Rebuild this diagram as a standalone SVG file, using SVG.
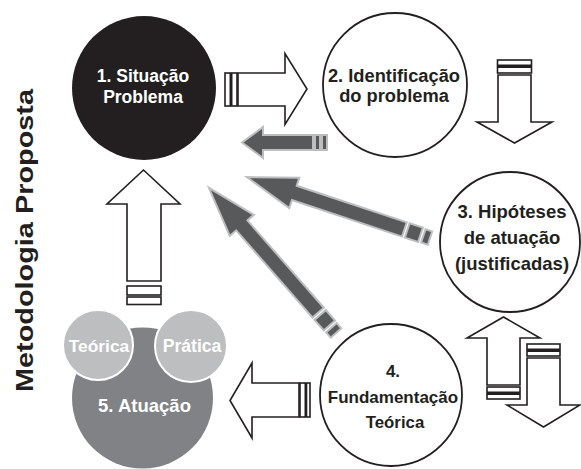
<svg xmlns="http://www.w3.org/2000/svg" width="581" height="469" viewBox="0 0 581 469">
<style>
text{font-family:"Liberation Sans",Arial,sans-serif;font-weight:bold;text-anchor:middle}
.node{fill:#fff;stroke:#231f20;stroke-width:1.8}
.wt{fill:#fff}
.bt{fill:#231f20}
.wa{fill:#fff;stroke:#231f20;stroke-width:1.6;stroke-linejoin:miter}
.bar{fill:#231f20}
.ga{fill:#58595b;stroke:#bcbec0;stroke-width:2;stroke-linejoin:miter}
</style>
<defs>
<g id="longgray">
<rect class="ga" x="0" y="-7" width="7" height="14"/>
<rect class="ga" x="10" y="-7.5" width="14" height="15"/>
<polygon class="ga" points="27,-7.5 143,-7.5 143,-16 193,0 143,16 143,7.5 27,7.5"/>
</g>
</defs>
<rect width="581" height="469" fill="#fff"/>
<text transform="translate(33,240.5) rotate(-90)" font-size="23.5" textLength="303" lengthAdjust="spacingAndGlyphs" fill="#231f20">Metodologia Proposta</text>

<g id="node1">
<circle cx="144" cy="88" r="72" fill="#231f20"/>
<text class="wt" x="143" y="82" font-size="17.5">1. Situação</text>
<text class="wt" x="143" y="103" font-size="17.5">Problema</text>
</g>
<g id="node2">
<circle class="node" cx="395" cy="85" r="72"/>
<text class="bt" x="394" y="82" font-size="18.3">2. Identificação</text>
<text class="bt" x="394" y="102" font-size="18.3">do problema</text>
</g>
<g id="node3">
<circle class="node" cx="510" cy="242" r="70"/>
<text class="bt" x="512" y="218" font-size="18.5">3. Hipóteses</text>
<text class="bt" x="512" y="244" font-size="18.5">de atuação</text>
<text class="bt" x="512" y="270" font-size="18.5">(justificadas)</text>
</g>
<g id="node4">
<circle class="node" cx="391" cy="395" r="71"/>
<text class="bt" x="393" y="377" font-size="17">4.</text>
<text class="bt" x="393" y="403" font-size="17">Fundamentação</text>
<text class="bt" x="395" y="428" font-size="16.8">Teórica</text>
</g>
<g id="node5">
<circle cx="142.5" cy="398" r="70.5" fill="#808285"/>
<text class="wt" x="144.5" y="412" font-size="18.5">5. Atuação</text>
<g id="node5a">
<circle cx="98" cy="345" r="35" fill="#bcbec0" stroke="#fff" stroke-width="2"/>
<text class="wt" x="99" y="352" font-size="17.4">Teórica</text>
</g>
<g id="node5b">
<circle cx="191" cy="346" r="36" fill="#bcbec0" stroke="#fff" stroke-width="2"/>
<text class="wt" x="192" y="352" font-size="17.6">Prática</text>
</g>
</g>

<g id="connectors">
<rect class="wa" x="225" y="73" width="12" height="33"/>
<rect class="bar" x="229.5" y="73" width="3" height="33"/>
<polygon class="wa" points="238,73 285,73 285,53.5 307,89 285,124.5 285,106 238,106"/>
<rect class="wa" x="497.5" y="60" width="34" height="13"/>
<rect class="bar" x="497.5" y="64.5" width="34" height="3.5"/>
<polygon class="wa" points="498,75 531,75 531,122 552,122 514.5,143 477,122 498,122"/>
<polygon class="wa" points="487,385 487,338 467,338 503.5,317 540,338 520,338 520,385"/>
<rect class="wa" x="487" y="387" width="33" height="12"/>
<rect class="bar" x="487" y="391.5" width="33" height="3.5"/>
<rect class="wa" x="527" y="344" width="33" height="12"/>
<rect class="bar" x="527" y="348.5" width="33" height="3.5"/>
<polygon class="wa" points="527,358 560,358 560,405 580,405 543.5,427 507,405 527,405"/>
<rect class="wa" x="300" y="383" width="10" height="34"/>
<rect class="bar" x="304.5" y="383" width="2.8" height="34"/>
<polygon class="wa" points="299,383 252,383 252,363 230,400.5 252,438 252,417 299,417"/>
<polygon class="wa" points="127,281 127,204 107,204 143.5,170 180,204 161,204 161,281"/>
<rect class="wa" x="127" y="286" width="34" height="9"/>
<rect class="wa" x="127" y="297" width="34" height="7.5"/>
<g transform="translate(327,142.5) rotate(180)">
<rect class="ga" x="0" y="-7.5" width="5" height="15"/>
<rect class="ga" x="7" y="-7.5" width="5" height="15"/>
<polygon class="ga" points="14,-7.5 64,-7.5 64,-15.5 85,0 64,15.5 64,7.5 14,7.5"/>
</g>
<use href="#longgray" transform="translate(430,238) rotate(198.4)"/>
<use href="#longgray" transform="translate(336,333) rotate(228.8)"/>
</g>
</svg>
